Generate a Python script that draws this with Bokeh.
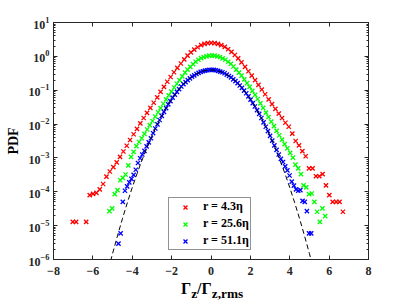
from bokeh.plotting import figure
from bokeh.models import (LinearAxis, LogAxis, FixedTicker, Legend, LegendItem,
                          CustomLabelingPolicy, Div)
from bokeh.layouts import column
from bokeh.embed import file_html
from bokeh.resources import INLINE

# ---------------- data ----------------
# r = 4.3 eta  (red); values are log10(PDF)
red_x = [-7.02, -6.85, -6.34, -6.16, -5.99, -5.82, -5.65, -5.48, -5.31, -5.14,
         -4.96, -4.79, -4.62, -4.45, -4.28, -4.11, -3.93, -3.76, -3.59, -3.42,
         -3.25, -3.08, -2.91, -2.73, -2.56, -2.39, -2.22, -2.05, -1.88, -1.71,
         -1.53, -1.36, -1.19, -1.02, -0.85, -0.68, -0.50, -0.33, -0.16, 0.01,
         0.18, 0.35, 0.52, 0.70, 0.87, 1.04, 1.21, 1.38, 1.55, 1.73,
         1.90, 2.07, 2.24, 2.41, 2.58, 2.75, 2.93, 3.10, 3.27, 3.44,
         3.61, 3.78, 3.95, 4.13, 4.30, 4.47, 4.64, 4.81, 4.98, 5.16,
         5.33, 5.50, 5.67, 5.84, 6.01, 6.18, 6.36, 6.53, 6.70]
red_logy = [-4.89, -4.89, -4.89, -4.10, -4.06, -4.03, -3.93, -3.77, -3.55, -3.40,
            -3.27, -3.13, -2.97, -2.81, -2.64, -2.47, -2.30, -2.14, -1.98, -1.82,
            -1.67, -1.52, -1.37, -1.21, -1.05, -0.90, -0.75, -0.61, -0.47, -0.34,
            -0.21, -0.09, 0.02, 0.12, 0.20, 0.27, 0.33, 0.37, 0.39, 0.40,
            0.39, 0.37, 0.33, 0.28, 0.21, 0.13, 0.04, -0.06, -0.18, -0.31,
            -0.44, -0.57, -0.70, -0.84, -0.98, -1.12, -1.27, -1.41, -1.55, -1.69,
            -1.82, -1.96, -2.08, -2.28, -2.50, -2.63, -2.80, -2.95, -3.31, -3.31,
            -3.54, -3.54, -3.48, -3.81, -4.10, -4.30, -4.30, -4.30, -4.59]

# r = 25.6 eta (green)
green_x = [-5.16, -5.02, -4.89, -4.75, -4.61, -4.48, -4.34, -4.20, -4.06, -3.93,
           -3.79, -3.65, -3.52, -3.38, -3.24, -3.11, -2.97, -2.83, -2.69, -2.56,
           -2.42, -2.28, -2.15, -2.01, -1.87, -1.73, -1.60, -1.46, -1.32, -1.19,
           -1.05, -0.91, -0.78, -0.64, -0.50, -0.37, -0.23, -0.09, 0.05,
           0.18, 0.32, 0.46, 0.59, 0.73, 0.87, 1.01, 1.14, 1.28, 1.42,
           1.55, 1.69, 1.83, 1.96, 2.10, 2.24, 2.37, 2.51, 2.65, 2.79,
           2.92, 3.06, 3.20, 3.33, 3.47, 3.61, 3.74, 3.88, 4.02, 4.16,
           4.29, 4.43, 4.57, 4.70, 4.84, 4.98, 5.12, 5.25, 5.39, 5.53, 5.66, 5.80]
green_logy = [-4.57, -4.49, -4.07, -3.95, -3.66, -3.59, -3.49, -3.22, -2.97, -2.82,
              -2.65, -2.53, -2.42, -2.29, -2.16, -2.03, -1.91, -1.78, -1.65, -1.53,
              -1.40, -1.27, -1.15, -1.04, -0.92, -0.81, -0.70, -0.59, -0.48, -0.39,
              -0.31, -0.23, -0.16, -0.10, -0.05, -0.02, 0.00, 0.02, 0.02,
              0.02, 0.00, -0.02, -0.06, -0.10, -0.16, -0.22, -0.30, -0.39, -0.48,
              -0.57, -0.68, -0.79, -0.90, -1.02, -1.14, -1.26, -1.39, -1.52, -1.66,
              -1.79, -1.93, -2.06, -2.20, -2.33, -2.46, -2.59, -2.72, -2.85, -2.99,
              -3.20, -3.31, -3.48, -3.81, -3.87, -4.07, -4.05, -4.30, -4.59, -4.89, -4.49, -4.72]

# r = 51.1 eta (blue)
blue_x = [-4.70, -4.59, -4.48, -4.37, -4.26, -4.15, -4.04, -3.93, -3.82, -3.71,
          -3.60, -3.49, -3.38, -3.27, -3.16, -3.05, -2.94, -2.83, -2.72, -2.61,
          -2.50, -2.39, -2.28, -2.17, -2.06, -1.95, -1.84, -1.73, -1.62, -1.51,
          -1.40, -1.29, -1.18, -1.07, -0.96, -0.85, -0.74, -0.63, -0.52, -0.41,
          -0.30, -0.19, -0.08, 0.03,
          0.14, 0.25, 0.36, 0.47, 0.58, 0.69, 0.80, 0.91, 1.02, 1.13,
          1.24, 1.35, 1.46, 1.57, 1.68, 1.79, 1.90, 2.01, 2.12, 2.23,
          2.34, 2.45, 2.56, 2.67, 2.78, 2.89, 3.00, 3.11, 3.22, 3.33,
          3.44, 3.55, 3.66, 3.77, 3.88, 3.99, 4.10, 4.21, 4.32, 4.43,
          4.54, 4.65, 4.76, 4.87, 4.98, 5.09]
blue_logy = [-5.53, -5.23, -4.30, -3.97, -3.84, -3.72, -3.62, -3.50, -3.35, -3.15,
             -3.01, -2.90, -2.79, -2.66, -2.54, -2.42, -2.27, -2.13, -2.01, -1.88,
             -1.76, -1.64, -1.53, -1.42, -1.32, -1.22, -1.13, -1.05, -0.97, -0.89,
             -0.82, -0.76, -0.70, -0.65, -0.60, -0.56, -0.52, -0.49, -0.46, -0.44,
             -0.42, -0.41, -0.40, -0.40,
             -0.40, -0.41, -0.43, -0.45, -0.47, -0.50, -0.54, -0.58, -0.62, -0.68,
             -0.73, -0.79, -0.86, -0.93, -1.01, -1.09, -1.18, -1.28, -1.38, -1.48,
             -1.59, -1.70, -1.82, -1.95, -2.08, -2.21, -2.35, -2.49, -2.63, -2.76,
             -2.90, -3.03, -3.12, -3.25, -3.37, -3.52, -3.70, -3.82, -3.93, -3.97,
             -3.95, -4.27, -4.30, -4.57, -5.23, -5.23]

# Gaussian reference (dashed black)
gauss_x = [-5.1, -5.0, -4.75, -4.5, -4.25, -4.0, -3.75, -3.5, -3.25, -3.0, -2.75,
           -2.5, -2.25, -2.0, -1.75, -1.5, -1.25, -1.0, -0.75, -0.5, -0.25, 0.0,
           0.25, 0.5, 0.75, 1.0, 1.25, 1.5, 1.75, 2.0, 2.25, 2.5, 2.75, 3.0,
           3.25, 3.5, 3.75, 4.0, 4.25, 4.5, 4.75, 5.0, 5.1]
gauss_y = [8.98e-7, 1.487e-6, 5.02e-6, 1.598e-5, 4.77e-5, 1.338e-4, 3.53e-4, 8.73e-4,
           2.029e-3, 4.432e-3, 9.09e-3, 1.753e-2, 3.17e-2, 5.40e-2, 8.63e-2, 0.1295,
           0.1826, 0.2420, 0.3011, 0.3521, 0.3867, 0.3989,
           0.3867, 0.3521, 0.3011, 0.2420, 0.1826, 0.1295, 8.63e-2, 5.40e-2, 3.17e-2,
           1.753e-2, 9.09e-3, 4.432e-3, 2.029e-3, 8.73e-4, 3.53e-4, 1.338e-4, 4.77e-5,
           1.598e-5, 5.02e-6, 1.487e-6, 8.98e-7]

series_labels = ["r = 4.3η", "r = 25.6η", "r = 51.1η"]
x_ticks = [-8, -6, -4, -2, 0, 2, 4, 6, 8]
y_decades = [-6, -5, -4, -3, -2, -1, 0, 1]
y_title = "PDF"

# ---------------- figure ----------------
FONT = "Liberation Serif"
AX = "#262626"

p = figure(width=400, height=280, x_range=(-8, 8), y_range=(1e-6, 10),
           y_axis_type="log", output_backend="svg", toolbar_location=None,
           min_border_left=53, min_border_right=32, min_border_top=22,
           min_border_bottom=21)
p.grid.visible = False
p.outline_line_color = AX
p.outline_line_width = 1
p.background_fill_color = "white"

y_major = [10.0 ** d for d in y_decades]
y_minor = [m * 10.0 ** d for d in y_decades[:-1] for m in range(2, 10)]
yticker = FixedTicker(ticks=y_major, minor_ticks=y_minor)
xticker = FixedTicker(ticks=x_ticks)

def style_axis(ax, labels=True, minor=True):
    ax.axis_line_color = AX
    ax.major_tick_line_color = AX
    ax.major_tick_in = 4
    ax.major_tick_out = 0
    if minor:
        ax.minor_tick_line_color = AX
        ax.minor_tick_in = 2
        ax.minor_tick_out = 0
    else:
        ax.minor_tick_line_color = None
    ax.major_label_text_font = FONT
    ax.major_label_text_font_style = "bold"
    ax.major_label_text_color = AX
    ax.major_label_text_font_size = "12px"
    if not labels:
        ax.major_label_policy = CustomLabelingPolicy(
            code="for (const i of indices) indices.unset(i)")
        ax.major_label_standoff = 0

p.xaxis.ticker = xticker
p.yaxis.ticker = yticker
style_axis(p.xaxis[0], labels=True, minor=False)
style_axis(p.yaxis[0], labels=True, minor=True)
p.xaxis.major_label_standoff = 7
p.yaxis.major_label_standoff = 4
p.yaxis.axis_label = y_title
p.yaxis.axis_label_text_font = FONT
p.yaxis.axis_label_text_font_style = "bold"
p.yaxis.axis_label_text_font_size = "14px"
p.yaxis.axis_label_text_color = "black"
p.yaxis.axis_label_standoff = 5

top_ax = LinearAxis(ticker=xticker)
style_axis(top_ax, labels=False, minor=False)
p.add_layout(top_ax, "above")
right_ax = LogAxis(ticker=yticker)
style_axis(right_ax, labels=False, minor=True)
p.add_layout(right_ax, "right")

# ---------------- data glyphs ----------------
red_y = [10.0 ** v for v in red_logy]
green_y = [10.0 ** v for v in green_logy]
blue_y = [10.0 ** v for v in blue_logy]

rr = p.scatter(red_x, red_y, marker="x", size=6, line_color="#FF0000", line_width=1.3)
rg = p.scatter(green_x, green_y, marker="x", size=6, line_color="#00FF00", line_width=1.3)
rb = p.scatter(blue_x, blue_y, marker="x", size=6, line_color="#0000FF", line_width=1.3)
p.line(gauss_x, gauss_y, line_color="black", line_width=1, line_dash="5 3")

legend = Legend(items=[LegendItem(label=series_labels[0], renderers=[rr]),
                       LegendItem(label=series_labels[1], renderers=[rg]),
                       LegendItem(label=series_labels[2], renderers=[rb])],
                location=(115, 9), label_text_font=FONT,
                label_text_font_style="bold", label_text_font_size="12px",
                label_text_color="black", label_text_line_height=1.0,
                border_line_color=AX, border_line_width=1,
                background_fill_color="white", background_fill_alpha=1.0,
                glyph_width=30, glyph_height=14, label_height=14,
                label_standoff=3, spacing=2, padding=1, margin=0)
p.add_layout(legend)

# ---------------- x axis title with subscripts (HTML text) ----------------
xlabel_html = ("<div style=\"padding-left:181px; white-space:nowrap; "
               "font-family:'Liberation Serif'; font-weight:bold; font-size:16px; "
               "line-height:18px; color:black;\">"
               "Γ<sub>z</sub>/Γ<sub>z,rms</sub></div>")
xlabel = Div(text=xlabel_html, width=400, height=24, margin=0)

layout = column(p, xlabel, spacing=0)
open("out.html", "w").write(file_html(layout, INLINE))
